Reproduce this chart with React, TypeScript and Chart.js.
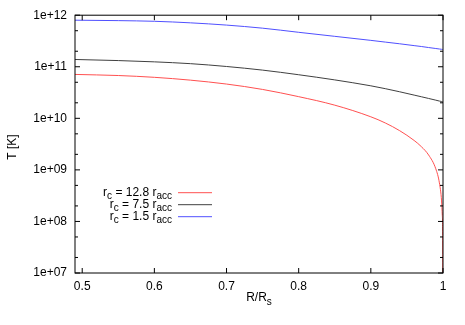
import React, { useEffect, useRef } from 'react';
import { Chart, registerables } from 'chart.js';

Chart.register(...registerables);

// ---- data ----
const R_VALUES = [0.49, 0.55, 0.6, 0.65, 0.7, 0.75, 0.8, 0.85, 0.9, 0.92, 0.94, 0.96, 0.97, 0.98, 0.99, 0.995, 0.998, 0.999, 0.9995, 1.0];
const T_RC_12_8 = [7.1e10, 6.76e10, 6.24e10, 5.5e10, 4.62e10, 3.63e10, 2.63e10, 1.8e10, 1.07e10, 8.13e9, 5.75e9, 3.72e9, 2.82e9, 1.95e9, 1.05e9, 5.6e8, 2.5e8, 1.32e8, 6.3e7, 1.0e5];
const T_RC_7_5 = [1.384e11, 1.318e11, 1.245e11, 1.148e11, 1.012e11, 8.61e10, 7.0e10, 5.56e10, 4.27e10, 3.76e10, 3.27e10, 2.82e10, 2.62e10, 2.43e10, 2.25e10, 2.16e10, 2.12e10, 2.1e10, 2.094e10, 2.09e10];
const T_RC_1_5 = [8.0e11, 7.85e11, 7.62e11, 7.11e11, 6.43e11, 5.6e11, 4.66e11, 3.89e11, 3.25e11, 3.01e11, 2.79e11, 2.57e11, 2.47e11, 2.36e11, 2.26e11, 2.21e11, 2.18e11, 2.17e11, 2.168e11, 2.163e11];

const RC_VALUES = ['12.8', '7.5', '1.5'];
const SERIES_COLORS = ['#ff5050', '#404040', '#5050ff'];

const X_TICKS = [0.5, 0.6, 0.7, 0.8, 0.9, 1.0];
const X_TICK_LABELS = ['0.5', '0.6', '0.7', '0.8', '0.9', '1'];
const Y_TICKS = [1e7, 1e8, 1e9, 1e10, 1e11, 1e12];
const Y_TICK_LABELS = ['1e+07', '1e+08', '1e+09', '1e+10', '1e+11', '1e+12'];
const Y_MINOR_MULT = [2, 5];

const FONT = '"Liberation Sans", Arial, Helvetica, sans-serif';
const MAIN_PX = 12;
const SUB_PX = 10;

type Part = { t: string; sub?: boolean };

function richWidth(ctx: CanvasRenderingContext2D, parts: Part[]) {
  let w = 0;
  for (const p of parts) {
    ctx.font = `${p.sub ? SUB_PX : MAIN_PX}px ${FONT}`;
    w += ctx.measureText(p.t).width;
  }
  return w;
}

function drawRich(ctx: CanvasRenderingContext2D, parts: Part[], x: number, y: number, align: 'left' | 'right' | 'center') {
  const w = richWidth(ctx, parts);
  let cx = align === 'left' ? x : align === 'right' ? x - w : x - w / 2;
  ctx.textBaseline = 'middle';
  ctx.textAlign = 'left';
  for (const p of parts) {
    ctx.font = `${p.sub ? SUB_PX : MAIN_PX}px ${FONT}`;
    ctx.fillText(p.t, cx, p.sub ? y + 4 : y);
    cx += ctx.measureText(p.t).width;
  }
}

const frameAndText = {
  id: 'frameAndText',
  afterDatasetsDraw(chart: any) {
    const { ctx, chartArea: ca, scales } = chart;
    const xs = scales.x;
    const ys = scales.y;
    const MAJOR = 5;
    const MINOR = 3;
    ctx.save();
    ctx.strokeStyle = '#000';
    ctx.lineWidth = 1;
    const seg = (x1: number, y1: number, x2: number, y2: number) => {
      ctx.beginPath();
      ctx.moveTo(x1, y1);
      ctx.lineTo(x2, y2);
      ctx.stroke();
    };
    ctx.strokeRect(ca.left, ca.top, ca.right - ca.left, ca.bottom - ca.top);
    for (const v of X_TICKS) {
      const px = xs.getPixelForValue(v);
      seg(px, ca.bottom, px, ca.bottom - MAJOR);
      seg(px, ca.top, px, ca.top + MAJOR);
    }
    for (const v of Y_TICKS) {
      const py = ys.getPixelForValue(v);
      seg(ca.left, py, ca.left + MAJOR, py);
      seg(ca.right, py, ca.right - MAJOR, py);
      if (v < 1e12) {
        for (const m of Y_MINOR_MULT) {
          const pm = ys.getPixelForValue(v * m);
          seg(ca.left, pm, ca.left + MINOR, pm);
          seg(ca.right, pm, ca.right - MINOR, pm);
        }
      }
    }
    ctx.restore();
  },
  afterDraw(chart: any) {
    const { ctx, chartArea: ca } = chart;
    ctx.save();
    ctx.fillStyle = '#000';
    // y title
    ctx.save();
    ctx.translate(13, (ca.top + ca.bottom) / 2 + 3);
    ctx.rotate(-Math.PI / 2);
    drawRich(ctx, [{ t: 'T [K]' }], 0, 0, 'center');
    ctx.restore();
    // x title
    drawRich(ctx, [{ t: 'R/R' }, { t: 's', sub: true }], (ca.left + ca.right) / 2, ca.bottom + 25, 'center');
    // legend
    const textRight = ca.left + 97;
    chart.data.datasets.forEach((ds: any, i: number) => {
      const y = ca.top + 177 + i * 12;
      drawRich(ctx, [{ t: 'r' }, { t: 'c', sub: true }, { t: ` = ${RC_VALUES[i]} r` }, { t: 'acc', sub: true }], textRight, y, 'right');
      ctx.strokeStyle = ds.borderColor;
      ctx.lineWidth = 1;
      ctx.beginPath();
      ctx.moveTo(ca.left + 103, y + 0.5);
      ctx.lineTo(ca.left + 137, y + 0.5);
      ctx.stroke();
    });
    ctx.restore();
  },
};

export default function App() {
  const canvasRef = useRef<HTMLCanvasElement | null>(null);

  useEffect(() => {
    document.body.style.margin = '0';
    const canvas = canvasRef.current;
    if (!canvas) return;
    const series = [T_RC_12_8, T_RC_7_5, T_RC_1_5];
    const chart = new Chart(canvas, {
      type: 'line',
      data: {
        datasets: series.map((vals, i) => ({
          label: `r_c = ${RC_VALUES[i]} r_acc`,
          data: R_VALUES.map((r, j) => ({ x: r, y: vals[j] })),
          borderColor: SERIES_COLORS[i],
          borderWidth: 1,
          pointRadius: 0,
          fill: false,
          cubicInterpolationMode: 'monotone' as const,
        })),
      },
      options: {
        responsive: false,
        animation: false,
        layout: { padding: { top: 15, right: 22, bottom: 0, left: 0 } },
        plugins: { legend: { display: false }, tooltip: { enabled: false } },
        scales: {
          x: {
            type: 'linear',
            min: 0.49,
            max: 1.0,
            grid: { display: false, drawTicks: false },
            border: { display: false },
            afterBuildTicks: (scale: any) => {
              scale.ticks = X_TICKS.map((v) => ({ value: v }));
            },
            afterFit: (scale: any) => {
              scale.height = 52;
            },
            ticks: {
              autoSkip: false,
              maxRotation: 0,
              padding: 6,
              color: '#000',
              font: { family: FONT, size: MAIN_PX },
              callback: (_v: any, i: number) => X_TICK_LABELS[i],
            },
          },
          y: {
            type: 'logarithmic',
            min: 1e7,
            max: 1e12,
            grid: { display: false, drawTicks: false },
            border: { display: false },
            afterBuildTicks: (scale: any) => {
              scale.ticks = Y_TICKS.map((v) => ({ value: v }));
            },
            afterFit: (scale: any) => {
              scale.width = 75;
            },
            ticks: {
              autoSkip: false,
              padding: 8,
              color: '#000',
              font: { family: FONT, size: MAIN_PX },
              callback: (_v: any, i: number) => Y_TICK_LABELS[i],
            },
          },
        },
      },
      plugins: [frameAndText],
    } as any);
    return () => chart.destroy();
  }, []);

  return (
    <div style={{ position: 'absolute', left: 0, top: 0, width: 465, height: 325 }}>
      <canvas ref={canvasRef} width={465} height={325} />
    </div>
  );
}
